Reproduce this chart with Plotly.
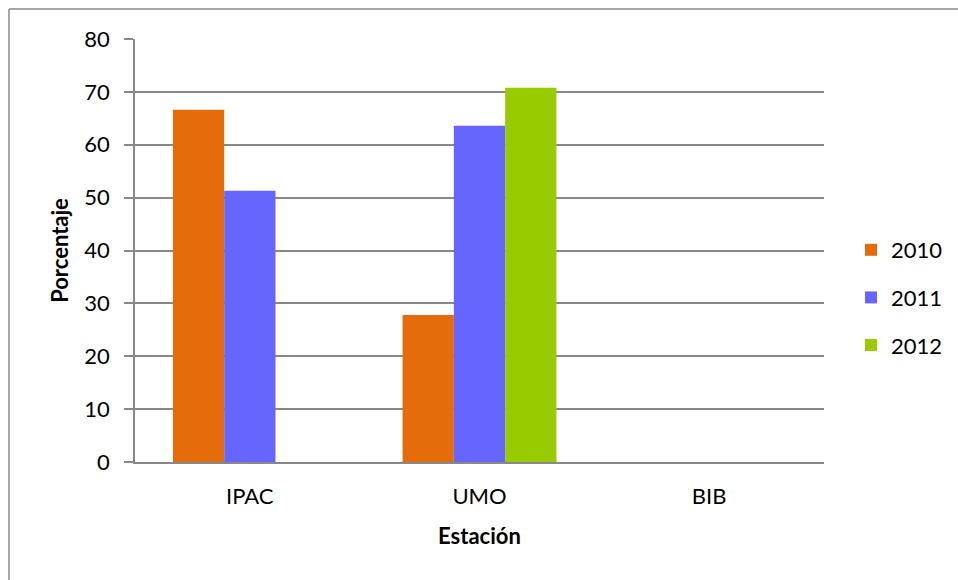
import plotly.graph_objects as go

# Station categories and yearly percentages
estaciones = ["IPAC", "UMO", "BIB"]
anios = ["2010", "2011", "2012"]
valores_2010 = [66.6, 27.8, None]
valores_2011 = [51.3, 63.6, None]
valores_2012 = [None, 70.8, None]
series = [valores_2010, valores_2011, valores_2012]
colores = ["#E46C0A", "#6666FF", "#99CC00"]
ticks_y = [0, 10, 20, 30, 40, 50, 60, 70, 80]

FONT = "Lato"
FS = 22
GRIS = "#888888"

fig = go.Figure()
for anio, vals, color in zip(anios, series, colores):
    fig.add_trace(go.Bar(
        x=estaciones, y=vals, name=anio,
        marker=dict(color=color, line=dict(width=0)),
        legendgroup=anio,
    ))

L, R, T, B = 135, 134, 39, 118
W, H = 958, 580
pw, ph = W - L - R, H - T - B

fig.update_layout(
    width=W, height=H,
    margin=dict(l=L, r=R, t=T, b=B, autoexpand=False),
    paper_bgcolor="white", plot_bgcolor="white",
    barmode="group", bargap=0.33, bargroupgap=0,
    font=dict(family=FONT, size=FS, color="#000000"),
    showlegend=True,
    legend=dict(
        x=(851 - L) / pw, y=(462 - 229) / ph, xanchor="left", yanchor="top",
        traceorder="grouped", tracegroupgap=16,
        font=dict(family=FONT, size=FS),
        bgcolor="rgba(0,0,0,0)",
    ),
    xaxis=dict(
        showline=True, linecolor=GRIS, linewidth=1.5,
        ticks="", showgrid=False,
        tickfont=dict(family=FONT, size=FS),
        ticklabelstandoff=14,
        title=dict(text="<b>Estación</b>", font=dict(family=FONT, size=FS), standoff=20),
    ),
    yaxis=dict(
        range=[0, 80], tickvals=ticks_y,
        showline=True, linecolor=GRIS, linewidth=1.5,
        showgrid=True, gridcolor=GRIS, gridwidth=1.5,
        zeroline=False,
        ticks="outside", ticklen=9, tickcolor=GRIS, tickwidth=1.5,
        tickfont=dict(family=FONT, size=FS),
        ticklabelstandoff=10,
        title=dict(text="<b>Porcentaje</b>", font=dict(family=FONT, size=FS), standoff=10),
    ),
    shapes=[
        dict(type="line", xref="paper", yref="paper",
             x0=(9 - L) / pw, x1=(9 - L) / pw, y0=(462 - 600) / ph, y1=(462 - 9) / ph,
             line=dict(color=GRIS, width=1.5)),
        dict(type="line", xref="paper", yref="paper",
             x0=(9 - L) / pw, x1=(1000 - L) / pw, y0=(462 - 9) / ph, y1=(462 - 9) / ph,
             line=dict(color=GRIS, width=1.5)),
    ],
)

fig.write_html("out.html")
